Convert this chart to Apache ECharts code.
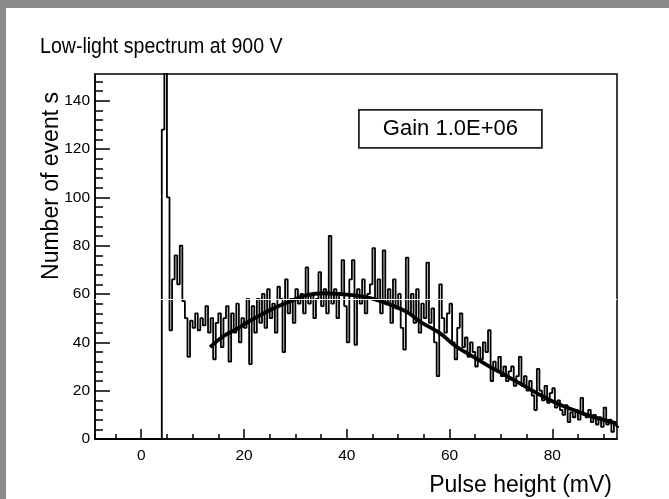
<!DOCTYPE html>
<html><head><meta charset="utf-8">
<script src="https://cdn.jsdelivr.net/npm/echarts@6/dist/echarts.min.js"></script>
<style>
html,body{margin:0;padding:0;background:#8a8a8a;width:669px;height:499px;overflow:hidden}
#c{position:absolute;left:6px;top:8px;width:663px;height:491px;background:#fff}
</style></head><body><div id="c"></div>
<script>
// ---- data ----
const titleText = 'Low-light spectrum at 900 V';
const xTitle = 'Pulse height (mV)';
const yTitle = 'Number of event s';
const legendText = 'Gain 1.0E+06';
const binStart = 4.0;
const binWidth = 0.5;
const counts = [
128,165,100,45,66,76,64,80,57,50,34,49,46,52,45,50,47,55,44,50,
33,48,52,38,50,55,32,52,44,56,40,50,46,58,31,55,44,58,48,60,
46,62,50,56,44,63,58,36,66,52,58,48,62,56,60,52,71,56,60,50,
58,69,55,62,52,84,56,62,50,60,74,55,40,66,74,39,62,56,66,52,
60,64,79,58,66,52,78,56,62,48,66,54,60,46,37,75,52,60,48,62,
44,56,50,73,48,54,40,26,64,50,44,52,56,40,33,46,52,38,42,34,
40,36,30,38,33,40,36,45,24,32,28,34,26,30,24,28,30,22,26,34,
22,26,20,24,18,12,29,20,16,22,15,19,21,13,16,12,10,14,7,11,
9,12,8,17,10,9,12,7,10,6,9,5,13,6,8,3,6,5
];
const fitX = [13.4,16,19.3,21.2,25.7,29,32.2,35.5,38.7,42,45.2,48.5,51.7,54.3,58.2,60.8,64,67.3,70.5,73.7,77,80.2,83.5,86.7,89.5,92.5];
const fitY = [38,42.5,46.4,49,54,57,59.5,60.3,60,59.3,58,55.5,52.6,48.5,43.7,39,34.8,30.6,26.8,23,19,15.4,12.5,10,8.2,6.5];
const xMajorTicks = [0,20,40,60,80];
const xMinorTicks = [-5,5,10,15,25,30,35,45,50,55,65,70,75,85,90];
const yMajorTicks = [0,20,40,60,80,100,120,140];
const yMinorTicks = [4,8,12,16,24,28,32,36,44,48,52,56,64,68,72,76,84,88,92,96,104,108,112,116,124,128,132,136,144,148];
const xRange = [-9, 92.6];
const yRange = [0, 151];
const whiteLineY = 58;

// ---- build ----
const histData = [[xRange[0], 0]];
counts.forEach((v, i) => histData.push([binStart + i * binWidth, v]));
histData.push([binStart + counts.length * binWidth, counts[counts.length - 1]]);
const fitData = fitX.map((x, i) => [x, fitY[i]]);

const sans = "'Liberation Sans', Arial, sans-serif";

const chart = echarts.init(document.getElementById('c'), null, {renderer: 'canvas'});
const baseX = {type: 'value', min: xRange[0], max: xRange[1], splitLine: {show: false}};
const baseY = {type: 'value', min: yRange[0], max: yRange[1], splitLine: {show: false}};
chart.setOption({
  animation: false,
  grid: {left: 89, top: 66, width: 522, height: 365, show: true, borderColor: '#000', borderWidth: 1.5, backgroundColor: 'transparent'},
  xAxis: [
    Object.assign({}, baseX, {
      position: 'bottom',
      axisLine: {show: true, onZero: false, lineStyle: {color: '#000', width: 1.5}},
      axisTick: {show: true, inside: true, length: 10, customValues: xMajorTicks, lineStyle: {color: '#000', width: 1.5}},
      axisLabel: {show: true, customValues: xMajorTicks, margin: 9, color: '#000', fontFamily: sans, fontSize: 15.5}
    }),
    Object.assign({}, baseX, {
      position: 'bottom',
      axisLine: {show: false, onZero: false},
      axisTick: {show: true, inside: true, length: 5, customValues: xMinorTicks, lineStyle: {color: '#000', width: 1.5}},
      axisLabel: {show: false}
    })
  ],
  yAxis: [
    Object.assign({}, baseY, {
      position: 'left',
      axisLine: {show: true, onZero: false, lineStyle: {color: '#000', width: 1.5}},
      axisTick: {show: true, inside: true, length: 15, customValues: yMajorTicks, lineStyle: {color: '#000', width: 1.5}},
      axisLabel: {show: true, customValues: yMajorTicks, margin: 5, color: '#000', fontFamily: sans, fontSize: 15.5}
    }),
    Object.assign({}, baseY, {
      position: 'left',
      axisLine: {show: false, onZero: false},
      axisTick: {show: true, inside: true, length: 8, customValues: yMinorTicks, lineStyle: {color: '#000', width: 1.5}},
      axisLabel: {show: false}
    })
  ],
  series: [
    {
      type: 'line', step: 'end', data: histData, showSymbol: false, symbol: 'none',
      lineStyle: {color: '#000', width: 1.8}, z: 2, clip: true
    },
    {
      type: 'line', smooth: 0.4, data: fitData, showSymbol: false, symbol: 'none',
      lineStyle: {color: '#000', width: 3.8}, z: 3, clip: true
    },
    {
      type: 'line', data: [], z: 4,
      markLine: {silent: true, symbol: 'none', label: {show: false},
        lineStyle: {color: '#fff', width: 1, type: 'solid'},
        data: [{yAxis: whiteLineY}]}
    }
  ],
  graphic: [
    {type: 'text', x: 34, y: 39, scaleX: 0.91,
      style: {text: titleText, fontFamily: sans, fontSize: 21.5, fill: '#000', verticalAlign: 'middle'}},
    {type: 'text', x: 46, y: 178, rotation: Math.PI / 2,
      style: {text: yTitle, fontFamily: sans, fontSize: 23, fill: '#000', align: 'center', verticalAlign: 'middle'}},
    {type: 'text', x: 606, y: 478,
      style: {text: xTitle, fontFamily: sans, fontSize: 23, fill: '#000', align: 'right', verticalAlign: 'middle'}},
    {type: 'group', left: 352, top: 101, children: [
      {type: 'rect', shape: {x: 0, y: 0, width: 183, height: 38}, style: {fill: '#fff', stroke: '#222', lineWidth: 1.8}},
      {type: 'text', x: 91.5, y: 19, style: {text: legendText, fontFamily: sans, fontSize: 22, fill: '#000', align: 'center', verticalAlign: 'middle'}}
    ]}
  ]
});
</script></body></html>
